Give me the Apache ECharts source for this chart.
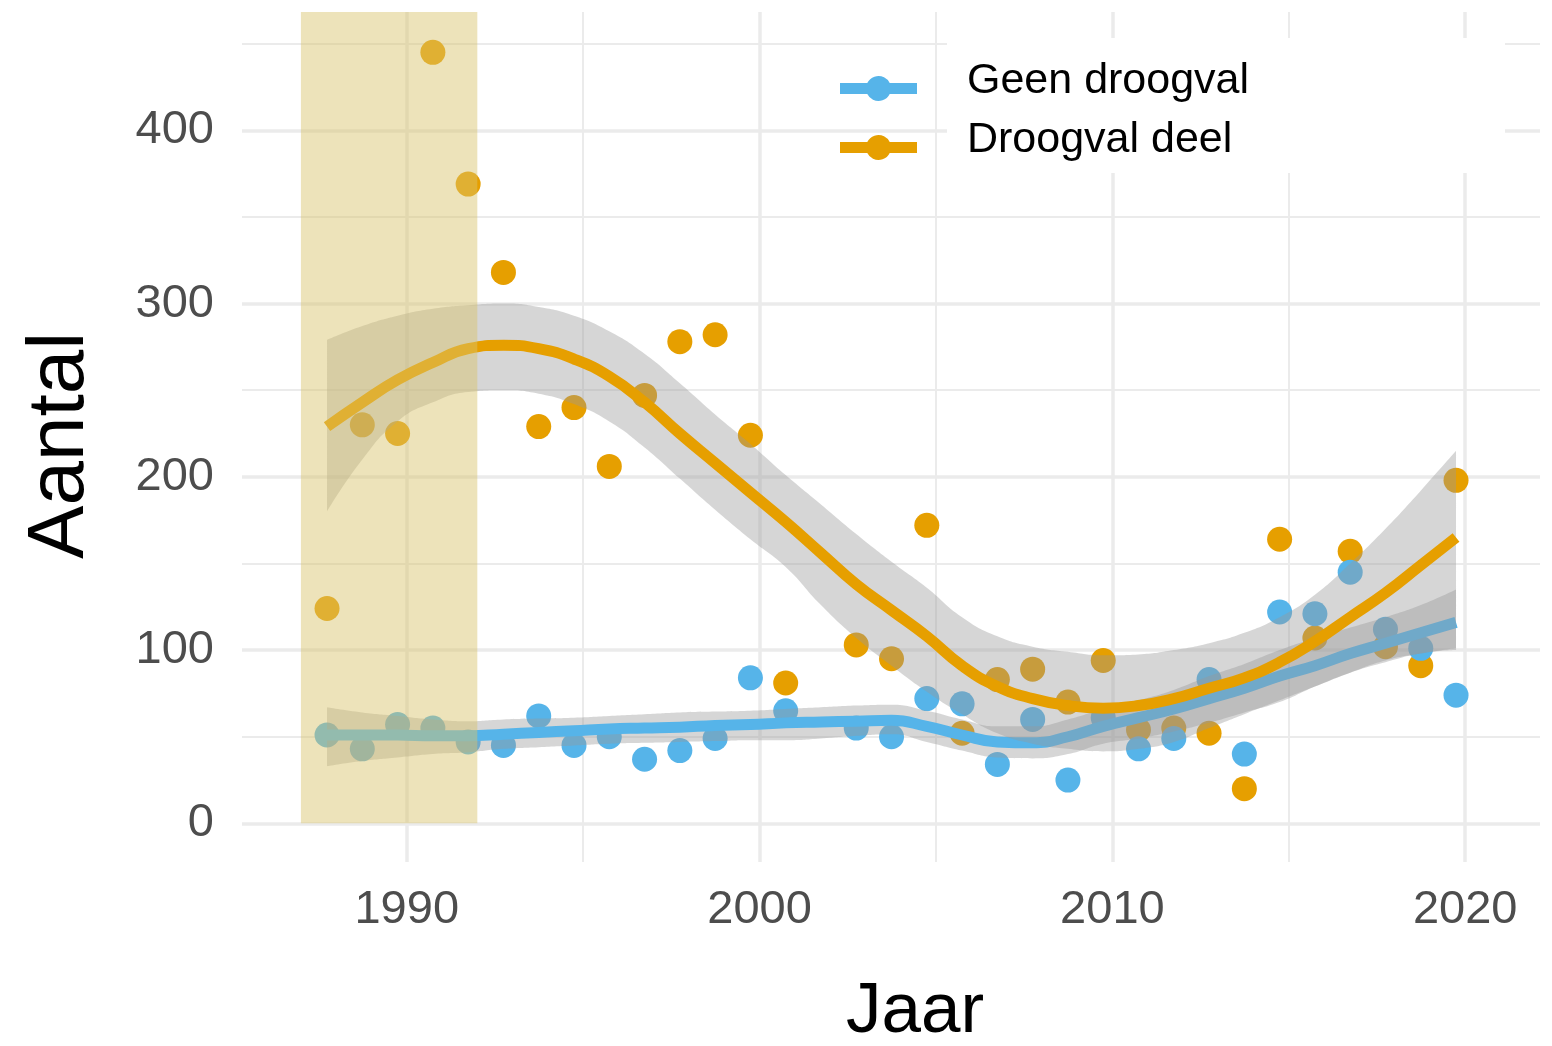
<!DOCTYPE html>
<html>
<head>
<meta charset="utf-8">
<script src="https://cdn.jsdelivr.net/npm/echarts@6/dist/echarts.min.js"></script>
<style>
html,body{margin:0;padding:0;background:#ffffff;}
#chart{width:1552px;height:1046px;}
</style>
</head>
<body>
<div id="chart"></div>
<script>
// ---------- data ----------
const years = [1988,1989,1990,1991,1992,1993,1994,1995,1996,1997,1998,1999,2000,2001,
  2003,2004,2005,2006,2007,2008,2009,2010,2011,2012,2013,2014,2015,2016,2017,2018,2019,2020];
const geenDroogval = [51,43,57,55,47,45,62,45,50,37,42,49,84,65,
  55,50,72,69,34,60,25,61,43,49,83,40,122,121,145,112,101,74];
const droogvalDeel = [124,230,225,445,369,318,229,240,206,247,278,282,224,81,
  103,95,172,52,83,89,70,94,54,55,52,20,164,107,157,102,91,198];

const smoothYears = [1988,1989,1990,1991,1992,1993,1994,1995,1996,1997,1998,1999,2000,2001,2002,
  2003,2004,2005,2006,2007,2008,2009,2010,2011,2012,2013,2014,2015,2016,2017,2018,2019,2020];
const geenFit  = [51,51,51,50.5,50.5,51.5,52.5,53.5,54.5,55,55.5,56.5,57,58,58.5,
  59,59.5,56,51,47,46.5,50,56,61,66,72,78,85,91,98,104,110,116];
const geenLow  = [33,36,38,40,41,43,44,45,46,46.5,47,47.5,48,48,49,
  50.5,51.5,47,42,38,37.5,40,46,49,53,58,64,70,79,87,93,98,100];
const geenHigh = [67,64,62,60,59,60,60.5,61,62,63,64,64.5,65,66,67,
  68,68.5,65,60,56,56,60,66,71,77,85,92,100,107,113,119,126,135];
const deelFit  = [229,243,256,266,274,276,274,268,258,243,225,208,191,174,156,
  138,123,108,91,79,72,68,66.5,68,72,78,84,93,105,119,133,149,165];
const deelLow  = [180,210,232,243,249,250,248,242,232,217,199,181,164,148,126,
  107,91,76,63,52,46,43,41.5,43,47,55,63,71,79,87,94,98,101];
const deelHigh = [279,287,293,297,299,300,298,293,284,271,254,236,219,201,184,
  167,151,136,119,108,102,99,97,97.5,100,104,110,119,132,150,170,192,215];

const xTickLabels = [1990,2000,2010,2020];
const yTickLabels = [0,100,200,300,400];
const xMajorGrid = [1990,2000,2010,2020];
const xMinorGrid = [1995,2005,2015];
const yMajorGrid = [0,100,200,300,400];
const yMinorGrid = [50,150,250,350,450];
const droogvalPeriode = [1987,1992];

// ---------- layout constants ----------
const X_MIN = 1985.33, X_MAX = 2022.12;
const DATA_AXIS_OFFSET = 0.26;   // points in the reference sit slightly left of the year gridlines
const Y_MIN = -22.3, Y_MAX = 468.3;
const BLUE = '#56B4E9', ORANGE = '#E69F00';
const BAND = 'rgba(153,153,153,0.4)';
const ICON = 'path://M0,7 L27.28,7 A12.5,12.5 0 0 1 49.72,7 L77,7 L77,18 L49.72,18 A12.5,12.5 0 0 1 27.28,18 L0,18 Z';

const pairs = (xs, ys) => xs.map((x, i) => [x, ys[i]]);
// value first, year second (so the stack works on the value dimension)
const valYear = (xs, ys) => xs.map((x, i) => [ys[i], x]);
const diff = (hi, lo) => hi.map((h, i) => h - lo[i]);

const gridLines = []
  .concat(yMajorGrid.map(v => ({yAxis: v, lineStyle: {color: '#ebebeb', width: 3.5, type: 'solid'}})))
  .concat(yMinorGrid.map(v => ({yAxis: v, lineStyle: {color: '#ebebeb', width: 2, type: 'solid'}})))
  .concat(xMajorGrid.map(v => ({xAxis: v, lineStyle: {color: '#ebebeb', width: 3.5, type: 'solid'}})))
  .concat(xMinorGrid.map(v => ({xAxis: v, lineStyle: {color: '#ebebeb', width: 2, type: 'solid'}})));

function band(name, stack, lo, hi, z) {
  return [
    {
      name: name + '_lo', type: 'line', xAxisIndex: 1, stack: stack, z: z,
      encode: {x: 1, y: 0},
      data: valYear(smoothYears, lo), smooth: true, showSymbol: false, symbol: 'none',
      lineStyle: {opacity: 0, width: 0}, silent: true
    },
    {
      name: name + '_hi', type: 'line', xAxisIndex: 1, stack: stack, z: z,
      encode: {x: 1, y: 0},
      data: valYear(smoothYears, diff(hi, lo)), smooth: true, showSymbol: false, symbol: 'none',
      lineStyle: {opacity: 0, width: 0}, areaStyle: {color: BAND, opacity: 1}, silent: true
    }
  ];
}

const FONT = "'Liberation Sans', Arial, sans-serif";
const chart = echarts.init(document.getElementById('chart'), null, {renderer: 'canvas'});
chart.setOption({
  animation: false,
  backgroundColor: '#ffffff',
  grid: {left: 242, right: 12, top: 12, bottom: 184, containLabel: false, outerBoundsMode: 'none'},
  xAxis: [
    {
      type: 'value', min: X_MIN, max: X_MAX,
      axisLine: {show: false}, axisTick: {show: false}, splitLine: {show: false},
      axisLabel: {
        customValues: xTickLabels, formatter: v => String(v),
        color: '#4d4d4d', fontSize: 47, fontFamily: FONT, margin: 25
      },
      name: 'Jaar', nameLocation: 'middle', nameGap: 115,
      nameTextStyle: {fontSize: 71, color: '#000', fontFamily: FONT, padding: [0, 0, 0, 48]}
    },
    {
      type: 'value', min: X_MIN + DATA_AXIS_OFFSET, max: X_MAX + DATA_AXIS_OFFSET, show: false
    }
  ],
  yAxis: {
    type: 'value', min: Y_MIN, max: Y_MAX,
    axisLine: {show: false}, axisTick: {show: false}, splitLine: {show: false},
    axisLabel: {
      customValues: yTickLabels, formatter: v => String(v),
      color: '#4d4d4d', fontSize: 47, fontFamily: FONT, margin: 28
    },
    name: 'Aantal', nameLocation: 'middle', nameRotate: 90, nameGap: 141,
    nameTextStyle: {fontSize: 80, color: '#000', fontFamily: "'Liberation Sans Narrow', 'Arial Narrow', sans-serif", padding: [0, 17, 0, 0]}
  },
  legend: {
    left: 835, top: 55, orient: 'vertical', itemWidth: 77, itemHeight: 25, itemGap: 2,
    selectedMode: false,
    data: [{name: 'Geen droogval', icon: ICON}, {name: 'Droogval deel', icon: ICON}],
    formatter: name => '{t|' + name + '}',
    textStyle: {
      fontSize: 43, color: '#000', fontFamily: FONT, padding: [0, 0, 0, 45],
      rich: {t: {fontSize: 43, color: '#000', fontFamily: FONT, lineHeight: 46, padding: [0, 0, 14, 0]}}
    }
  },
  graphic: [
    {type: 'rect', left: 947, top: 38, shape: {width: 558, height: 135}, style: {fill: '#ffffff'}, z: 1, silent: true}
  ],
  series: [
    {
      name: 'grid', type: 'line', xAxisIndex: 0, data: [], silent: true,
      markLine: {silent: true, z: 0, symbol: ['none', 'none'], label: {show: false}, animation: false, data: gridLines}
    },
    {
      name: 'Droogval deel', type: 'scatter', xAxisIndex: 1, z: 2,
      data: pairs(years, droogvalDeel), symbol: 'circle', symbolSize: 25,
      itemStyle: {color: ORANGE, opacity: 1}
    },
    {
      name: 'Geen droogval', type: 'scatter', xAxisIndex: 1, z: 3,
      data: pairs(years, geenDroogval), symbol: 'circle', symbolSize: 25,
      itemStyle: {color: BLUE, opacity: 1}
    },
    ...band('geenBand', 'geen', geenLow, geenHigh, 4),
    {
      name: 'Geen droogval', type: 'line', xAxisIndex: 1, z: 5,
      data: pairs(smoothYears, geenFit), smooth: true, showSymbol: false, symbol: 'none',
      lineStyle: {color: BLUE, width: 11}, itemStyle: {color: BLUE}
    },
    ...band('deelBand', 'deel', deelLow, deelHigh, 6),
    {
      name: 'Droogval deel', type: 'line', xAxisIndex: 1, z: 7,
      data: pairs(smoothYears, deelFit), smooth: true, showSymbol: false, symbol: 'none',
      lineStyle: {color: ORANGE, width: 11}, itemStyle: {color: ORANGE}
    },
    {
      name: 'periode', type: 'line', xAxisIndex: 0, data: [], silent: true,
      markArea: {
        silent: true, z: 10, itemStyle: {color: 'rgba(216,195,109,0.47)'},
        data: [[{xAxis: droogvalPeriode[0], yAxis: 0}, {xAxis: droogvalPeriode[1], yAxis: Y_MAX}]]
      }
    }
  ]
});
</script>
</body>
</html>
